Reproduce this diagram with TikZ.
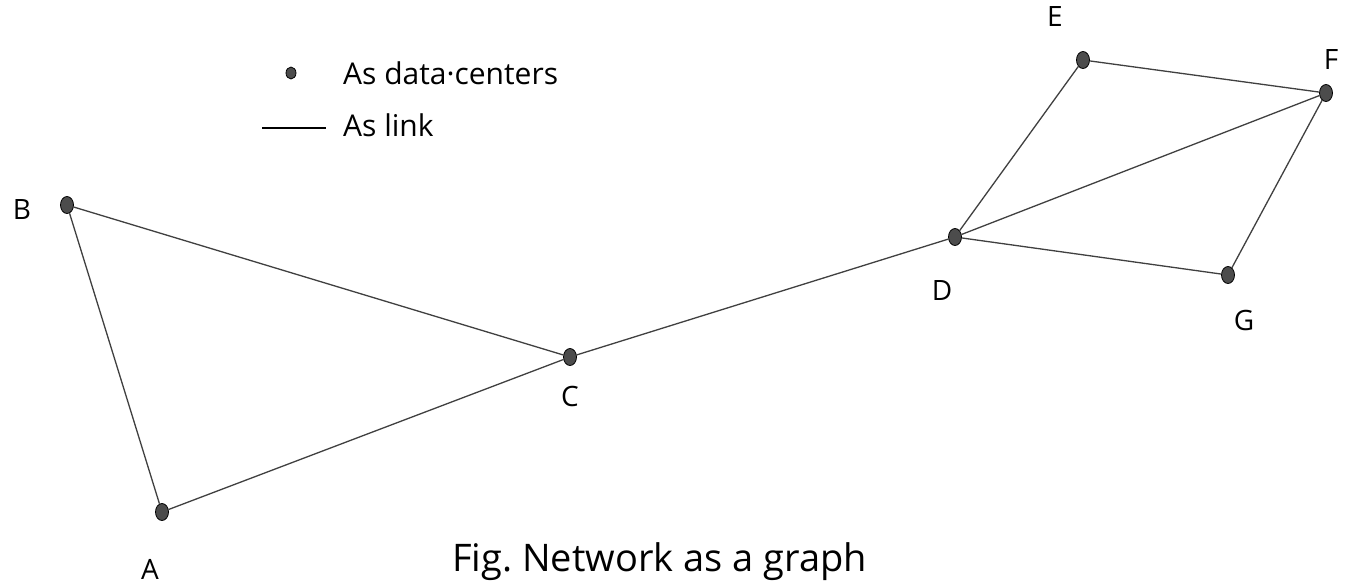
\documentclass[tikz,border=0pt]{standalone}
\usepackage{fontspec}
\setmainfont{Open Sans}
\usetikzlibrary{shapes.geometric}
\begin{document}
\begin{tikzpicture}[x=1pt,y=-1pt,
  dc/.style={ellipse,draw=black,fill=black!70,line width=0.8pt,minimum width=13pt,minimum height=17pt,inner sep=0pt},
  link/.style={draw=black!75,line width=1.3pt},
  lbl/.style={font=\fontsize{28}{32}\selectfont,inner sep=0pt},
  txt/.style={font=\fontsize{30}{34}\selectfont,inner sep=0pt,anchor=west}]
\useasboundingbox (0,0) rectangle (1355,587);
\fill[white] (0,0) rectangle (1355,587);
% data centres
\node[dc] (A) at (162,512) {};
\node[dc] (B) at (67,205) {};
\node[dc] (C) at (570,357) {};
\node[dc] (D) at (955,237) {};
\node[dc] (E) at (1083,60) {};
\node[dc] (F) at (1326,93) {};
\node[dc] (G) at (1228,275) {};
% labels
\node[lbl] (lA) at (150,569) {A};
\node[lbl] (lB) at (22,210) {B};
\node[lbl] (lC) at (570,396) {C};
\node[lbl] (lD) at (942,290) {D};
\node[lbl] (lE) at (1055,17) {E};
\node[lbl] (lF) at (1331,60) {F};
\node[lbl] (lG) at (1244,320) {G};
% links
\draw[link] (B) -- (C);
\draw[link] (B) -- (A);
\draw[link] (A) -- (C);
\draw[link] (C) -- (D);
\draw[link] (D) -- (E);
\draw[link] (D) -- (F);
\draw[link] (D) -- (G);
\draw[link] (E) -- (F);
\draw[link] (F) -- (G);
% legend
\node[dc,minimum width=10pt,minimum height=12pt] (legdot) at (291,73) {};
\node[txt] (legdc) at (343,73) {As data·centers};
\coordinate (l1) at (262,128);
\coordinate (l2) at (326,128);
\draw[link,black] (l1) -- (l2);
\node[txt] (legln) at (343,125) {As link};
% caption
\node[txt,font=\fontsize{38}{42}\selectfont] (cap) at (452,562) {Fig.\ Network as a graph};
\end{tikzpicture}
\end{document}
